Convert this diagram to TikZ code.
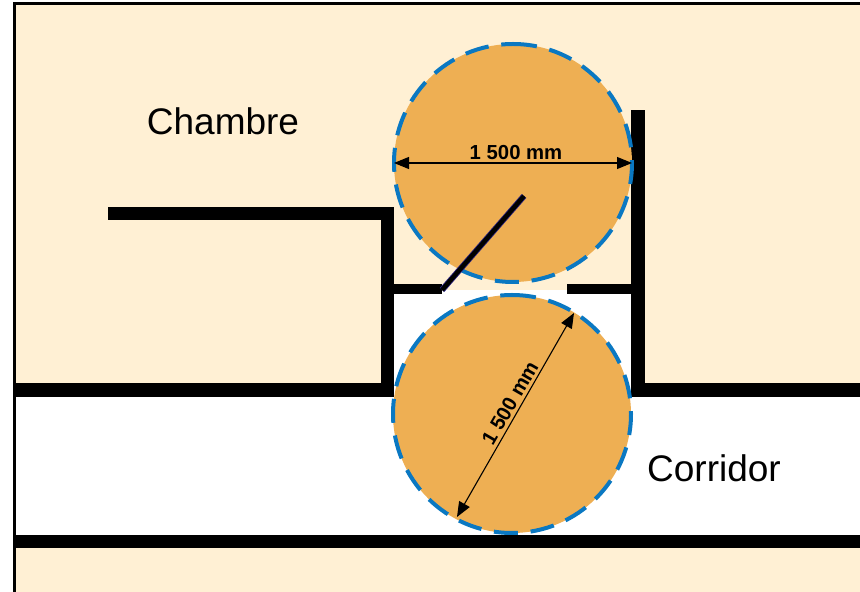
\documentclass[tikz,border=0pt]{standalone}
\usepackage{fontspec}
\setmainfont{Liberation Sans}
\usetikzlibrary{arrows.meta}
\definecolor{cream}{HTML}{FFF0D4}
\definecolor{disc}{HTML}{EEAF53}
\definecolor{dashblue}{HTML}{0A78C2}
\definecolor{doorblue}{HTML}{2A2280}
\tikzset{
  x=1pt,y=1pt,
  wall/.style={fill=black,draw=none},
  discline/.style={fill=disc,draw=dashblue,line width=4pt,dash pattern=on 24pt off 12.8pt},
  dimline/.style={line width=1.1pt,{Triangle[length=15pt,width=12pt]}-{Triangle[length=15pt,width=12pt]}},
  roomlabel/.style={font=\fontsize{37}{37}\selectfont,inner sep=0pt},
  dimlabel/.style={font=\fontsize{20.3}{20.3}\selectfont\bfseries,inner sep=0pt}
}
\begin{document}
\begin{tikzpicture}
\useasboundingbox (0,0) rectangle (860,592);
% background (y = 592 - pixel row)
\fill[white] (0,0) rectangle (860,592);
\fill[cream] (15,0) rectangle (860,587);
\fill[white] (15,57) rectangle (860,195);
\fill[white] (394,195) rectangle (632,298);
\fill[white] (442,298) rectangle (567,302);
% frame
\fill[black] (13,0) rectangle (15.6,590);
\fill[black] (13,587) rectangle (860,590);
% walls
\fill[wall] (108,372) rectangle (394,385);
\fill[wall] (381,195) rectangle (394,385);
\fill[wall] (15,195) rectangle (394,209);
\fill[wall] (631,195) rectangle (645,482);
\fill[wall] (631,195) rectangle (860,209);
\fill[wall] (15,44) rectangle (860,57);
\fill[wall] (394,298) rectangle (442,308);
\fill[wall] (567,298) rectangle (632,308);
% turning circles
\draw[discline] (513,548) arc[start angle=90,end angle=-270,radius=119pt];
\draw[discline] (512,297) arc[start angle=90,end angle=-270,radius=119pt];
% door leaf
\coordinate (doorA) at (442,302);
\coordinate (doorB) at (524,396);
\draw[doorblue,line width=6pt] (doorA) -- (doorB);
\draw[black,line width=4.4pt] (doorA) -- (doorB);
% dimensions
\coordinate (h1) at (394,429);
\coordinate (h2) at (632,429);
\coordinate (d1) at (457,75);
\coordinate (d2) at (574,279);
\draw[dimline] (h1) -- (h2);
\draw[dimline] (d1) -- (d2);
\node[dimlabel] (lab1) at (516,439.5) {1\hspace{0.28em}500 mm};
\node[dimlabel,rotate=60] (lab2) at (510,189) {1\hspace{0.28em}500 mm};
\node[roomlabel] (chambre) at (223,471) {Chambre};
\node[roomlabel] (corridor) at (714,124) {Corridor};
\end{tikzpicture}
\end{document}
